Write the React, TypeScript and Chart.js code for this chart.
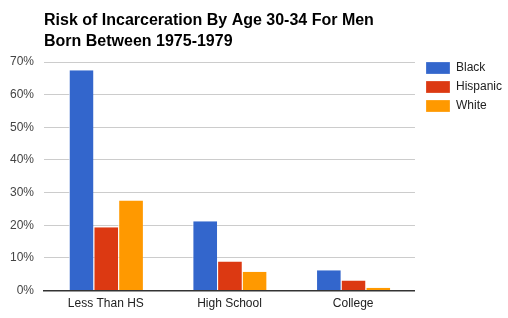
import React, { useEffect, useRef } from "react";
import { Chart, registerables } from "chart.js";

Chart.register(...registerables);

const titleLines = ["Risk of Incarceration By Age 30-34 For Men", "Born Between 1975-1979"];
const categories = ["Less Than HS", "High School", "College"];
const seriesNames = ["Black", "Hispanic", "White"];
const blackValues = [67.5, 21.2, 6.2];
const hispanicValues = [19.4, 8.9, 3.1];
const whiteValues = [27.6, 5.8, 0.9];
const seriesColors = ["#3366cc", "#dc3912", "#ff9900"];
const yTicks = [0, 10, 20, 30, 40, 50, 60, 70];

const FONT = "Arial, 'Liberation Sans', sans-serif";

// Two-line bold heading aligned with the left edge of the plot area
const titlePlugin = {
  id: "leftTitle",
  afterDraw(chart: any) {
    const { ctx, chartArea } = chart;
    ctx.save();
    ctx.fillStyle = "#000";
    ctx.font = `bold 16px ${FONT}`;
    ctx.textAlign = "left";
    ctx.textBaseline = "alphabetic";
    titleLines.forEach((line, i) => {
      ctx.fillText(line, chartArea.left, 25 + i * 21);
    });
    ctx.restore();
  },
};

// Nudge the legend so its first entry lines up with the top gridline
const legendOffsetPlugin = {
  id: "legendOffset",
  afterLayout(chart: any) {
    const legend = chart.legend;
    if (!legend) return;
    legend.left += 4;
    legend.right += 4;
    legend.top -= 7;
    legend.bottom -= 7;
  },
};

export default function App() {
  const canvasRef = useRef<HTMLCanvasElement | null>(null);

  useEffect(() => {
    if (!canvasRef.current) return;
    const values = [blackValues, hispanicValues, whiteValues];
    const chart = new Chart(canvasRef.current, {
      type: "bar",
      data: {
        labels: categories,
        datasets: seriesNames.map((name, i) => ({
          label: name,
          data: values[i],
          backgroundColor: seriesColors[i],
          borderColor: "#ffffff",
          borderWidth: { left: 1, right: 0, top: 0, bottom: 0 },
          borderSkipped: false,
          categoryPercentage: 0.6,
          barPercentage: 1.0,
        })),
      },
      options: {
        animation: false,
        responsive: true,
        maintainAspectRatio: false,
        layout: { padding: { top: 62, left: 0, right: 0, bottom: 1 } },
        plugins: {
          title: { display: false },
          tooltip: { enabled: false },
          legend: {
            position: "right",
            align: "start",
            labels: {
              boxWidth: 24,
              boxHeight: 12,
              padding: 7,
              color: "#222",
              font: { family: FONT, size: 12 },
            },
          },
        },
        scales: {
          x: {
            grid: { display: false, drawTicks: false },
            border: { display: true, color: "#333", width: 1.5 },
            ticks: { color: "#222", font: { family: FONT, size: 12 }, padding: 6 },
          },
          y: {
            min: 0,
            max: 70,
            afterBuildTicks: (axis: any) => {
              axis.ticks = yTicks.map((v) => ({ value: v }));
            },
            grid: { color: "#cccccc", drawTicks: false },
            border: { display: false },
            ticks: {
              color: "#444",
              font: { family: FONT, size: 12 },
              padding: 10,
              callback: (v: any) => `${v}%`,
            },
          },
        },
      },
      plugins: [titlePlugin, legendOffsetPlugin],
    });
    return () => chart.destroy();
  }, []);

  return (
    <div style={{ position: "fixed", left: 0, top: 0, width: 508, height: 318, background: "#fff" }}>
      <canvas ref={canvasRef} />
    </div>
  );
}
